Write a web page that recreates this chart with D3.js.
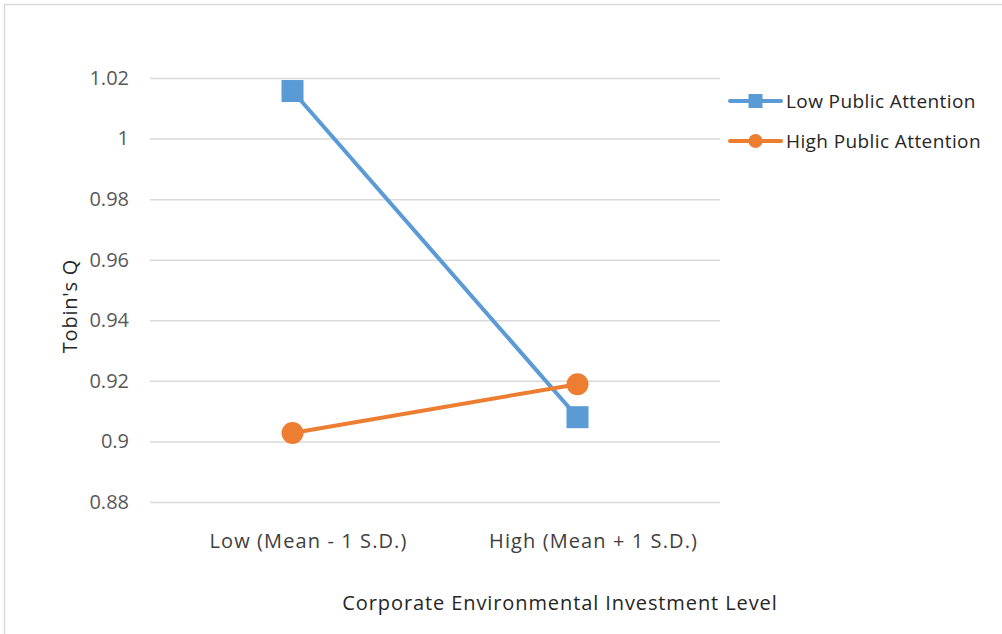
<!DOCTYPE html>
<html>
<head>
<meta charset="utf-8">
<script src="https://cdn.jsdelivr.net/npm/d3@7"></script>
<style>
  body { margin: 0; background: #fff; }
  svg { display: block; font-family: "Open Sans", sans-serif; }
</style>
</head>
<body>
<svg width="1002" height="634"></svg>
<script>
// data
var categories = ['Low (Mean - 1 S.D.)', 'High (Mean + 1 S.D.)'];
var seriesNames = ['Low Public Attention', 'High Public Attention'];
var lowAttention = [1.0157, 0.908];
var highAttention = [0.9028, 0.9189];
var yTicks = [0.88, 0.9, 0.92, 0.94, 0.96, 0.98, 1, 1.02];
var colors = ['#5B9BD5', '#ED7D31'];

var svg = d3.select('svg');

// chart border
svg.append('rect')
    .attr('x', 4.5)
    .attr('y', 4.5)
    .attr('width', 1100)
    .attr('height', 700)
    .attr('fill', 'none')
    .attr('stroke', '#d9d9d9')
    .attr('stroke-width', 1.5);

var plotLeft = 150, plotRight = 720;

var x = d3.scaleBand()
    .domain(categories)
    .range([plotLeft, plotRight]);

var y = d3.scaleLinear()
    .domain([0.88, 1.02])
    .range([502, 78]);

// gridlines + y labels
var yAxis = d3.axisLeft(y)
    .tickValues(yTicks)
    .tickFormat(function (d) { return String(+d.toFixed(2)); })
    .tickSize(-(plotRight - plotLeft))
    .tickPadding(21);

var gy = svg.append('g')
    .attr('transform', 'translate(' + plotLeft + ',0)')
    .call(yAxis);
gy.select('.domain').remove();
gy.selectAll('line')
    .attr('stroke', '#d9d9d9')
    .attr('stroke-width', 1.5);
gy.selectAll('text')
    .attr('fill', '#595959')
    .attr('font-size', 20)
    .attr('font-family', '"Open Sans", sans-serif');

// x labels
var xAxis = d3.axisBottom(x).tickSize(0).tickPadding(0);
var gx = svg.append('g')
    .attr('transform', 'translate(0,534)')
    .call(xAxis);
gx.select('.domain').remove();
gx.selectAll('text')
    .attr('dx', 16)
    .attr('fill', '#404040')
    .attr('font-size', 20)
    .attr('letter-spacing', 1.1)
    .attr('font-family', '"Open Sans", sans-serif');

// axis titles
svg.append('text')
    .attr('x', 560)
    .attr('y', 610)
    .attr('text-anchor', 'middle')
    .attr('fill', '#262626')
    .attr('font-size', 20)
    .attr('letter-spacing', 0.9)
    .text('Corporate Environmental Investment Level');

svg.append('text')
    .attr('transform', 'translate(77,306) rotate(-90)')
    .attr('text-anchor', 'middle')
    .attr('fill', '#262626')
    .attr('font-size', 20)
    .attr('letter-spacing', 0.8)
    .text("Tobin's Q");

// series
var series = [lowAttention, highAttention];
var line = d3.line()
    .x(function (d, i) { return x(categories[i]) + x.bandwidth() / 2; })
    .y(function (d) { return y(d); });

series.forEach(function (vals, s) {
    svg.append('path')
        .datum(vals)
        .attr('fill', 'none')
        .attr('stroke', colors[s])
        .attr('stroke-width', 4)
        .attr('d', line);
});

// markers
svg.selectAll('.sq')
    .data(lowAttention)
    .enter()
    .append('rect')
    .attr('x', function (d, i) { return x(categories[i]) + x.bandwidth() / 2 - 11; })
    .attr('y', function (d) { return y(d) - 11; })
    .attr('width', 22)
    .attr('height', 22)
    .attr('fill', colors[0]);

svg.selectAll('.dot')
    .data(highAttention)
    .enter()
    .append('circle')
    .attr('cx', function (d, i) { return x(categories[i]) + x.bandwidth() / 2; })
    .attr('cy', function (d) { return y(d); })
    .attr('r', 11)
    .attr('fill', colors[1]);

// legend
var legend = svg.append('g')
    .attr('transform', 'translate(730,101)');

seriesNames.forEach(function (name, i) {
    var g = legend.append('g')
        .attr('transform', 'translate(0,' + i * 40 + ')');
    g.append('line')
        .attr('x1', 0)
        .attr('x2', 51)
        .attr('stroke', colors[i])
        .attr('stroke-width', 4)
        .attr('stroke-linecap', 'round');
    if (i === 0) {
        g.append('rect')
            .attr('x', 25.5 - 7)
            .attr('y', -7)
            .attr('width', 14)
            .attr('height', 14)
            .attr('fill', colors[i]);
    } else {
        g.append('circle')
            .attr('cx', 25.5)
            .attr('r', 7)
            .attr('fill', colors[i]);
    }
    g.append('text')
        .attr('x', 56)
        .attr('dy', '0.35em')
        .attr('fill', '#262626')
        .attr('font-size', 19)
        .attr('letter-spacing', 0.4)
        .text(name);
});
</script>
</body>
</html>
